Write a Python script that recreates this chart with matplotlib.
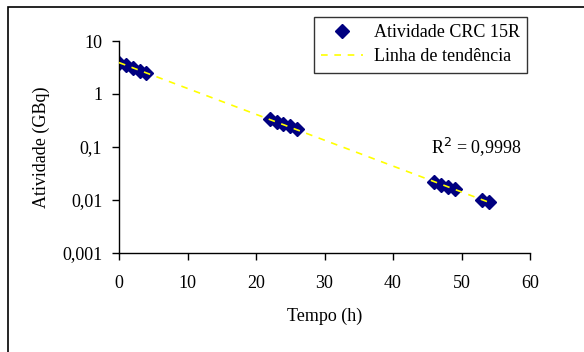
import matplotlib

matplotlib.use("Agg")
import matplotlib.pyplot as plt
import numpy as np
from matplotlib.patches import Rectangle
from matplotlib.ticker import FixedLocator, FuncFormatter, NullLocator

plt.rcParams["font.family"] = ["Liberation Serif", "DejaVu Serif"]

# measured activity of CRC 15R (GBq) vs time (h)
tempo = [0, 1, 2, 3, 4,
         22, 23, 24, 25, 26,
         46, 47, 48, 49,
         53, 54]
atividade = [3.85, 3.45, 3.08, 2.75, 2.46,
             0.34, 0.30, 0.27, 0.245, 0.22,
             0.022, 0.0195, 0.0175, 0.0158,
             0.0100, 0.0090]
r2_text = "R$^2$ = 0,9998"
y_ticks = [0.001, 0.01, 0.1, 1, 10]
x_ticks = [0, 10, 20, 30, 40, 50, 60]

t = np.array(tempo)
a = np.array(atividade)
slope, intercept = np.polyfit(t, np.log(a), 1)
t_fit = np.linspace(t.min(), t.max(), 100)
a_fit = np.exp(intercept + slope * t_fit)

fig = plt.figure(figsize=(5.84, 3.52), dpi=100)
ax = fig.add_axes([119 / 584, 1 - 253 / 352, (530 - 119) / 584, (253 - 41) / 352])

ax.plot(t, a, linestyle="none", marker="D", markersize=7.5,
        color="#000080", markeredgecolor="#000080", label="Atividade CRC 15R",
        zorder=2)
ax.plot(t_fit, a_fit, linestyle=(0, (4, 4)), color="#FFFF00", linewidth=1.2,
        label="Linha de tendência", zorder=3)

ax.set_yscale("log")
ax.set_xlim(0, 60)
ax.set_ylim(0.001, 10)
ax.yaxis.set_major_locator(FixedLocator(y_ticks))
ax.yaxis.set_minor_locator(NullLocator())
ax.yaxis.set_major_formatter(FuncFormatter(lambda v, p: f"{v:g}".replace(".", ",")))
ax.set_xticks(x_ticks)

for side in ("top", "right"):
    ax.spines[side].set_visible(False)
for side in ("left", "bottom"):
    ax.spines[side].set_linewidth(1.0)
ax.tick_params(direction="out", length=5, width=1, labelsize=13, pad=7)
ax.tick_params(axis="x", pad=11)

ax.set_xlabel("Tempo (h)", fontsize=13, labelpad=11)
ax.set_ylabel("Atividade (GBq)", fontsize=13, labelpad=9)

ax.text(45.6, 0.1, r2_text, fontsize=13, va="center", ha="left")

leg = ax.legend(loc="upper left", bbox_to_anchor=(314 / 584, 1 - 17 / 352),
                bbox_transform=fig.transFigure, fontsize=13, frameon=True,
                fancybox=False, shadow=False, borderpad=0.4, handlelength=2.3,
                labelspacing=0.4, handletextpad=0.6, borderaxespad=0)
leg.get_frame().set_edgecolor("black")
leg.get_frame().set_linewidth(1.0)

# outer chart-area border (right/bottom edges fall outside the image)
fig.patches.append(Rectangle((8 / 584, -0.2), 1.2, 1.2 - 7 / 352,
                             transform=fig.transFigure, fill=False,
                             edgecolor="black", linewidth=1.2))

fig.savefig("out.png", dpi=100)
plt.close(fig)
